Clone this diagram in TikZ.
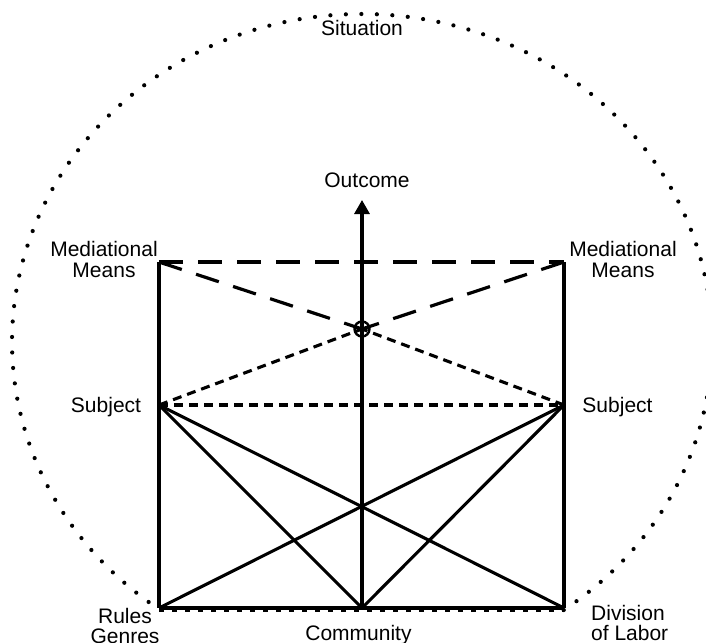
\documentclass[tikz,border=0pt]{standalone}
\usepackage{fontspec}
\setmainfont{Liberation Sans}
\usetikzlibrary{arrows.meta}
\begin{document}
\begin{tikzpicture}[x=1pt,y=-1pt,
  lbl/.style={font=\fontsize{21}{20.5}\selectfont, inner sep=0pt, align=center},
  solidln/.style={line width=3.1pt},
  longdash/.style={line width=3.2pt, dash pattern=on 24pt off 15pt},
  shortdash/.style={line width=3.1pt, dash pattern=on 9pt off 6pt},
  bottomdots/.style={line width=2.6pt, dash pattern=on 5pt off 8pt},
  situ/.style={line width=4.2pt, line cap=round, dash pattern=on 0pt off 15.5pt}]
\useasboundingbox (0,0) rectangle (706,642);

% key points
\coordinate (MMl) at (159,262);
\coordinate (MMr) at (564,262);
\coordinate (Sl)  at (159,405);
\coordinate (Sr)  at (564,405);
\coordinate (BL)  at (159,608);
\coordinate (BR)  at (564,608);
\coordinate (Cm)  at (362,608);
\coordinate (Top) at (362,200);
\coordinate (Ectr) at (362,342);
\coordinate (BLd) at (159,610.5);
\coordinate (BRd) at (564,610.5);

% situation boundary (dotted elliptic arc)
\draw[situ] ([shift={(-54.8:350pt and 328pt)}]Ectr)
  arc[start angle=-54.8, end angle=234.8, x radius=350pt, y radius=328pt];

% centre circle
\node[draw, circle, line width=2.4pt, minimum size=15pt, inner sep=0pt] (ctr) at (362,329) {};

% frame
\draw[solidln] (MMl) -- (BL);
\draw[solidln] (MMr) -- (BR);
\draw[bottomdots] (BLd) -- (BRd);
\draw[solidln] (BL) -- (BR);

% long dashed mediational lines
\draw[longdash] (MMl) -- (MMr);
\draw[longdash] (MMl) -- (ctr.center);
\draw[longdash] (MMr) -- (ctr.center);

% short dashed subject lines
\draw[shortdash] (Sl) -- (ctr.center);
\draw[shortdash] (Sr) -- (ctr.center);
\draw[shortdash] (Sl) -- (Sr);

% solid cross lines
\draw[solidln] (Sl) -- (Cm);
\draw[solidln] (Sl) -- (BR);
\draw[solidln] (Sr) -- (Cm);
\draw[solidln] (Sr) -- (BL);

% outcome arrow
\draw[solidln, -{Triangle[length=14pt, width=15pt]}] (Cm) -- (Top);

% labels
\node[lbl, anchor=base] (sit) at (362,36) {Situation};
\node[lbl, anchor=base] (out) at (367,187) {Outcome};
\node[lbl] (mml) at (104,259.5) {Mediational\\Means};
\node[lbl] (mmr) at (623,259.5) {Mediational\\Means};
\node[lbl, anchor=base] (subl) at (106,412) {Subject};
\node[lbl, anchor=base] (subr) at (617.5,412) {Subject};
\node[lbl, anchor=north] (rules) at (125,608) {Rules\\Genres};
\node[lbl, anchor=base] (comm) at (358.5,640) {Community};
\node[lbl, anchor=north west, align=left] (div) at (591,605) {Division\\of Labor};
\end{tikzpicture}
\end{document}
